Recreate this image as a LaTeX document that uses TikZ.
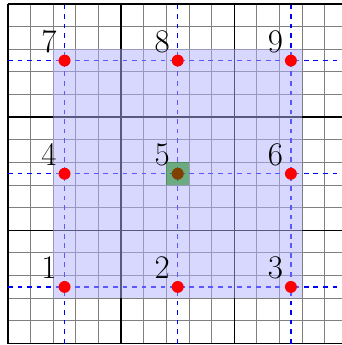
\documentclass[tikz,border=0pt]{standalone}
\usetikzlibrary{positioning}

\begin{document}
\begin{tikzpicture}[x=0.5cm, y=0.5cm]
        \tikzstyle{fine} = [gray, line width=0.6pt, step=0.5cm]
        \tikzstyle{coarse} = [black, line width=1pt, step=2.5cm]
        \tikzstyle{guide} = [blue, dashed, line width=0.75pt]
        \tikzstyle{dot} = [circle, fill=red, inner sep=0pt, minimum size=7.5pt]
        \tikzstyle{num} = [font=\huge, inner sep=2pt]
        
        \useasboundingbox (-0.353,-0.066) rectangle (14.747,15.177);
        
        % grid
        \draw [fine] (0,0) grid (15,15);
        \draw [coarse] (0,0) grid (15,15);
        
        % guide lines through the cell centres
        \draw [guide] (2.5,0) -- (2.5,15);
        \draw [guide] (7.5,0) -- (7.5,15);
        \draw [guide] (12.5,0) -- (12.5,15);
        \draw [guide] (0,2.5) -- (15,2.5);
        \draw [guide] (0,7.5) -- (15,7.5);
        \draw [guide] (0,12.5) -- (15,12.5);
        
        \fill [blue!30, opacity=0.5] (2,2) rectangle (13,13);
        
        \node [dot] (d1) at (2.5,2.5) {};
        \node [dot] (d2) at (7.5,2.5) {};
        \node [dot] (d3) at (12.5,2.5) {};
        \node [dot] (d4) at (2.5,7.5) {};
        \node [dot] (d5) at (7.5,7.5) {};
        \node [dot] (d6) at (12.5,7.5) {};
        \node [dot] (d7) at (2.5,12.5) {};
        \node [dot] (d8) at (7.5,12.5) {};
        \node [dot] (d9) at (12.5,12.5) {};
        
        \fill [green!50!black, opacity=0.5] (7,7) rectangle (8,8);
        
        \node [num, above left=0pt of d1] (l1) {1};
        \node [num, above left=0pt of d2] (l2) {2};
        \node [num, above left=0pt of d3] (l3) {3};
        \node [num, above left=0pt of d4] (l4) {4};
        \node [num, above left=0pt of d5] (l5) {5};
        \node [num, above left=0pt of d6] (l6) {6};
        \node [num, above left=0pt of d7] (l7) {7};
        \node [num, above left=0pt of d8] (l8) {8};
        \node [num, above left=0pt of d9] (l9) {9};
    \end{tikzpicture}
\end{document}
